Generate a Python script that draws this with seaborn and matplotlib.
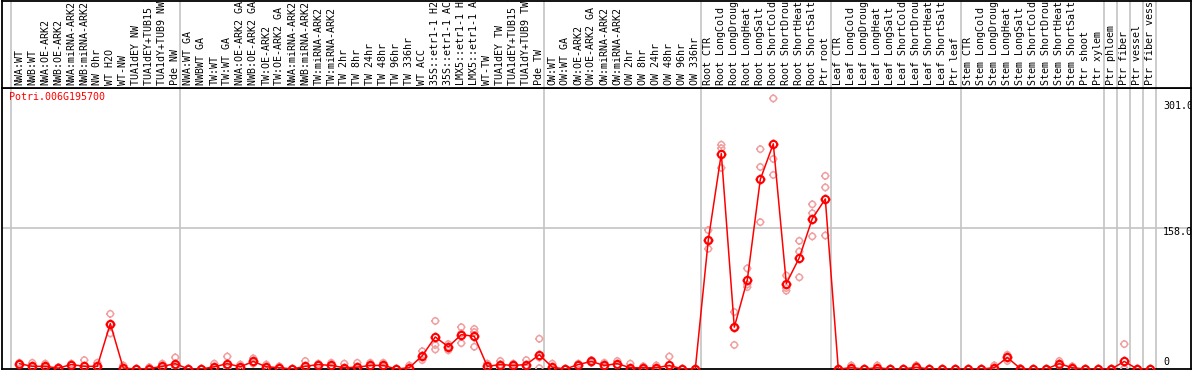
import pandas as pd
import matplotlib
matplotlib.use("Agg")
import matplotlib.pyplot as plt
from matplotlib.path import Path
import seaborn as sns

# === Data ===
gene_id = "Potri.006G195700"

samples = [
    "NWA:WT", "NWB:WT", "NWA:OE-ARK2", "NWB:OE-ARK2", "NWA:miRNA-ARK2", "NWB:miRNA-ARK2",
    "NW 0hr", "WT H2O", "WT-NW", "TUA1dEY NW", "TUA1dEY+TUB15 NW", "TUA1dY+TUB9 NW", "Pde NW",
    "NWA:WT GA", "NWBWT GA", "TW:WT", "TW:WT GA", "NWA:OE-ARK2 GA", "NWB:OE-ARK2 GA",
    "TW:OE-ARK2", "TW:OE-ARK2 GA", "NWA:miRNA-ARK2", "NWB:miRNA-ARK2", "TW:miRNA-ARK2",
    "TW:miRNA-ARK2", "TW 2hr", "TW 8hr", "TW 24hr", "TW 48hr", "TW 96hr", "TW 336hr",
    "WT ACC", "35S::etr1-1 H2O", "35S::etr1-1 ACC", "LMX5::etr1-1 H2O", "LMX5::etr1-1 ACC",
    "WT-TW", "TUA1dEY TW", "TUA1dEY+TUB15 TW", "TUA1dY+TUB9 TW", "Pde TW",
    "OW:WT", "OW:WT GA", "OW:OE-ARK2", "OW:OE-ARK2 GA", "OW:miRNA-ARK2", "OW:miRNA-ARK2",
    "OW 2hr", "OW 8hr", "OW 24hr", "OW 48hr", "OW 96hr", "OW 336hr",
    "Root CTR", "Root LongCold", "Root LongDrought", "Root LongHeat", "Root LongSalt",
    "Root ShortCold", "Root ShortDrought", "Root ShortHeat", "Root ShortSalt", "Ptr root",
    "Leaf CTR", "Leaf LongCold", "Leaf LongDrought", "Leaf LongHeat", "Leaf LongSalt",
    "Leaf ShortCold", "Leaf ShortDrought", "Leaf ShortHeat", "Leaf ShortSalt", "Ptr leaf",
    "Stem CTR", "Stem LongCold", "Stem LongDrought", "Stem LongHeat", "Stem LongSalt",
    "Stem ShortCold", "Stem ShortDrought", "Stem ShortHeat", "Stem ShortSalt",
    "Ptr shoot", "Ptr xylem", "Ptr phloem", "Ptr fiber", "Ptr vessel", "Ptr fiber vessel",
]

means = [
    6, 3, 3, 1, 5, 3, 3, 51, 1, 0, 0.5, 3, 6,
    0, 0, 2.5, 6, 2.5, 8.5, 2.5, 1.5, 0, 3, 5, 4, 1.4, 2, 4, 4, 0, 1.4,
    15, 36, 25, 38.6, 36.7, 3, 5, 4, 5, 16,
    2, 0, 5, 8.5, 4, 6, 1.4, 1.4, 1.4, 4, 0, 0,
    145, 242, 47, 100, 213, 253, 96, 125, 169, 191,
    0, 1.4, 0, 1.4, 0, 0, 2, 0, 0, 0,
    0, 0, 1.4, 13, 0.5, 0, 0, 6, 1.4,
    0, 0, 0, 8.5, 0, 0,
]

rep_a = [
    7, 7, 6, 2, 6, 10, 7, 62, 4, 0, 2, 6, 13,
    0, 0, 6, 14, 5, 12, 5, 3, 0, 9, 6, 7, 6, 7, 7, 7, 0, 4,
    20, 54, 28, 47, 45, 6, 9, 6, 10, 34,
    6, 0, 6, 10, 7, 9, 6, 3, 4, 14, 0, 0,
    156, 252, 64, 113, 247, 304, 105, 144, 185, 217,
    0, 4, 0, 4, 0, 0, 4, 0, 0, 0,
    0, 0, 4, 16, 1, 0, 0, 9, 3,
    0, 0, 0, 28, 0, 0,
]

rep_b = [
    6, 2, 2, 1, 5, 0, 2, 50, 0, 0, 0, 2, 4,
    0, 0, 1, 3, 2, 8, 2, 1, 0, 0, 5, 3, 0, 0, 3, 3, 0, 0,
    15, 27, 25, 40, 41.5, 2, 5, 4, 4, 13,
    0, 0, 5, 8, 3, 5, 0, 1, 0, 0, 0, 0,
    145, 248, 47, 95, 227, 236, 91, 132, 175, 204,
    0, 0, 0, 0, 0, 0, 1, 0, 0, 0,
    0, 0, 0, 13, 0, 0, 0, 6, 1,
    0, 0, 0, 0.5, 0, 0,
]

rep_c = [
    5, 1, 1, 0, 4, 0, 0, 40, 0, 0, 0, 1, 1,
    0, 0, 1, 1, 1, 6, 1, 1, 0, 0, 4, 2, 0, 0, 2, 2, 0, 0,
    10, 22, 21, 29, 25, 1, 1, 2, 1, 1,
    0, 0, 4, 7, 2, 4, 0, 0, 0, 0, 0, 0,
    135, 226, 27, 92, 165, 218, 88, 103, 149, 150,
    0, 0, 0, 0, 0, 0, 1, 0, 0, 0,
    0, 0, 0, 9, 0, 0, 0, 4, 0,
    0, 0, 0, 0, 0, 0,
]

# last sample index of each group (separator lines drawn just after these)
group_ends = [12, 40, 52, 62, 72, 83, 84, 85, 86, 87]
ytick_values = [0, 158, 301]
ytick_labels = ["0", "158.0", "301.0"]

pos = list(range(len(samples)))
df_mean = pd.DataFrame({"pos": pos, "sample": samples, "value": means})
df_reps = pd.DataFrame({
    "pos": pos * 3,
    "value": rep_a + rep_b + rep_c,
})

# circle with four small ticks, like the original marker
stubs = Path([[0, 1], [0, 1.35], [0, -1], [0, -1.35],
              [1, 0], [1.35, 0], [-1, 0], [-1.35, 0]],
             [Path.MOVETO, Path.LINETO] * 4)
tick_circle = Path.make_compound_path(Path.unit_circle(), stubs)

# === Figure ===
sns.set_theme(style="white")
plt.rcParams["font.family"] = ["DejaVu Sans Mono"]

W, H = 1194, 370
fig = plt.figure(figsize=(W / 100, H / 100), dpi=100)
fig.patch.set_facecolor("white")

x0, x1 = 2 / W, 1191 / W
ax = fig.add_axes([x0, 1 - 369 / H, x1 - x0, (369 - 88) / H])
lab = fig.add_axes([x0, 1 - 88 / H, x1 - x0, (88 - 0.6) / H])

xlim = (-1.33, 90.13)
grid_c = "#c4c4c4"
red = "#ff0000"
pink = "#f0a0a0"

# replicates
sns.scatterplot(data=df_reps, x="pos", y="value", ax=ax, marker=tick_circle, s=36,
                facecolor="none", edgecolor=pink, linewidth=1.1, zorder=3)
# mean line
sns.lineplot(data=df_mean, x="pos", y="value", ax=ax, color=red, linewidth=1.1,
             marker=tick_circle, markersize=7, markerfacecolor="none",
             markeredgecolor=red, markeredgewidth=1.5, zorder=4)

ax.set_xlim(*xlim)
ax.set_ylim(0, 315.7)
ax.set_xticks([])
ax.set_yticks([])
ax.set_xlabel("")
ax.set_ylabel("")
ax.axhline(158, color=grid_c, lw=1.2, zorder=1)

seps = [-0.66] + [e + 0.4 for e in group_ends]
for s in seps:
    ax.axvline(s, color=grid_c, lw=1.2, zorder=1)
    lab.axvline(s, color=grid_c, lw=1.2, zorder=1)

# y value labels on the right, inside the plot
offsets = {0: 7, 158: -4, 301: -5}
for v, t in zip(ytick_values, ytick_labels):
    ax.annotate(t, xy=(1, v), xycoords=("axes fraction", "data"),
                xytext=(-28, offsets[v]), textcoords="offset pixels",
                ha="left", va="center", fontsize=7.2, color="black",
                annotation_clip=False, clip_on=True)

ax.annotate(gene_id, xy=(0, 1), xycoords="axes fraction",
            xytext=(7.5, -9.5), textcoords="offset pixels",
            ha="left", va="center", fontsize=7.2, color=red)

# sample labels
lab.set_xlim(*xlim)
lab.set_ylim(0, 88)
lab.set_xticks([])
lab.set_yticks([])
for i, s in enumerate(samples):
    lab.text(i, 3, s, rotation=90, ha="center", va="bottom", fontsize=7.2,
             color="black", clip_on=True)

for a in (ax, lab):
    for sp in a.spines.values():
        sp.set_color("black")
        sp.set_linewidth(1.3)

fig.savefig("out.png", dpi=100)
plt.close()
